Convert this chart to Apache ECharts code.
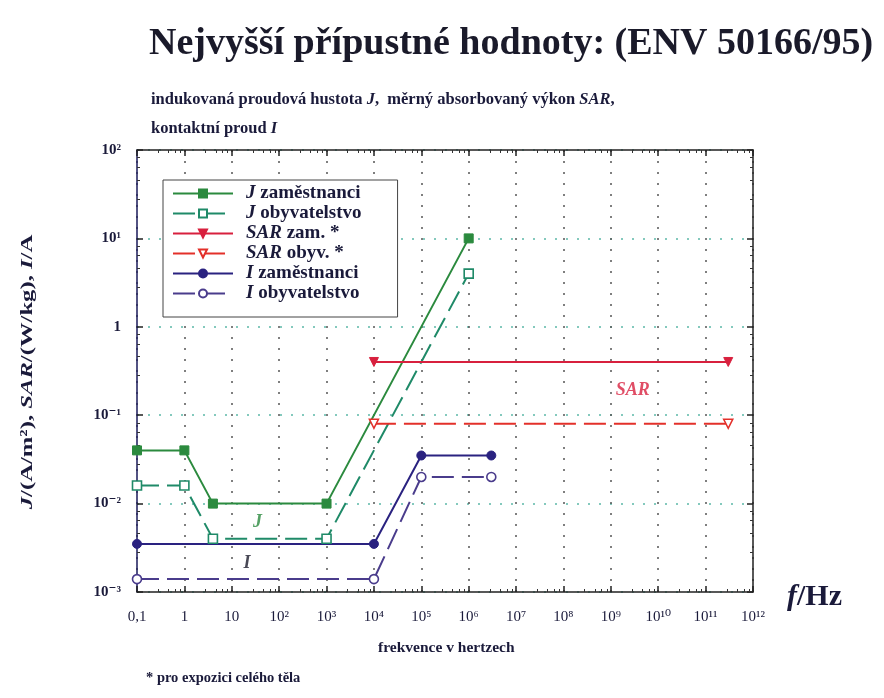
<!DOCTYPE html>
<html><head><meta charset="utf-8">
<script src="https://cdn.jsdelivr.net/npm/echarts@6/dist/echarts.min.js"></script>
<style>html,body{margin:0;padding:0;background:#fff}#c{width:884px;height:698px}</style>
</head><body><div id="c"></div>
<script>
// ---- data ----
const xTickLabels = ['0,1','1','10','10²','10³','10⁴','10⁵','10⁶','10⁷','10⁸','10⁹','10¹⁰','10¹¹','10¹²'];
const yTickLabels = ['10⁻³','10⁻²','10⁻¹','1','10¹','10²'];

const seriesNames = ['J zaměstnanci','J obyvatelstvo','SAR zam. *','SAR obyv. *','I zaměstnanci','I obyvatelstvo'];

const jZamF   = [0.1, 1, 4, 1000, 1e6];
const jZamV   = [0.04, 0.04, 0.01, 0.01, 10];
const jObyvF  = [0.1, 1, 4, 1000, 1e6];
const jObyvV  = [0.016, 0.016, 0.004, 0.004, 4];
const sarZamF = [1e4, 3e11];
const sarZamV = [0.4, 0.4];
const sarObyvF = [1e4, 3e11];
const sarObyvV = [0.08, 0.08];
const iZamF   = [0.1, 1e4, 1e5, 3e6];
const iZamV   = [0.0035, 0.0035, 0.035, 0.035];
const iObyvF  = [0.1, 1e4, 1e5, 3e6];
const iObyvV  = [0.0014, 0.0014, 0.02, 0.02];

// in-plot annotations (data coordinates)
const annoText = ['SAR', 'J', 'I'];
const annoF    = [2.9e9, 35, 21];
const annoV    = [0.19, 0.0062, 0.0021];

const SERIF = '"Liberation Serif","DejaVu Serif",serif';
const INK = '#1a1a3a';
const pairs = (xs, ys) => xs.map((x, i) => [x, ys[i]]);
const exp10 = v => Math.round(Math.log10(v));

const C = {
  jz: '#2b8a3e', jo: '#1f8a68', sz: '#d8203e', so: '#e3302a', iz: '#2a2280', io: '#4a3c8c'
};

function lineSeries(name, data, color, symbol, filled, dashed, rotate) {
  return {
    name, type: 'line', data,
    symbol, symbolSize: 9, symbolRotate: rotate || 0,
    showAllSymbol: true,
    lineStyle: { color, width: 2, type: dashed ? [22, 8] : 'solid' },
    itemStyle: filled ? { color, borderColor: color, borderWidth: 1 } : { color: '#fff', borderColor: color, borderWidth: 1.6 },
    emphasis: { disabled: true },
    z: 3
  };
}
const it = (size) => ({ fontFamily: SERIF, fontSize: size, fontWeight: 'bold', fontStyle: 'italic', color: INK });

const chart = echarts.init(document.getElementById('c'), null, { renderer: 'canvas' });

const option = {
  backgroundColor: '#fff',
  animation: false,
  title: [
    { text: 'Nejvyšší přípustné hodnoty: (ENV 50166/95)', left: 144, top: 20,
      textStyle: { fontFamily: SERIF, fontSize: 38, fontWeight: 'bold', color: '#1a1a2a' } },
    { text: 'indukovaná proudová hustota {i|J},  měrný absorbovaný výkon {i|SAR},', left: 146, top: 86,
      textStyle: { fontFamily: SERIF, fontSize: 16.5, fontWeight: 'bold', color: INK, rich: { i: it(16.5) } } },
    { text: 'kontaktní proud {i|I}', left: 146, top: 115,
      textStyle: { fontFamily: SERIF, fontSize: 16.5, fontWeight: 'bold', color: INK, rich: { i: it(16.5) } } },
    { text: 'frekvence v hertzech', left: 373, top: 635,
      textStyle: { fontFamily: SERIF, fontSize: 15.5, fontWeight: 'bold', color: INK } },
    { text: '* pro expozici celého těla', left: 141, top: 666,
      textStyle: { fontFamily: SERIF, fontSize: 14.5, fontWeight: 'bold', color: INK } },
    { text: '{i|f}/Hz', left: 782, top: 577,
      textStyle: { fontFamily: SERIF, fontSize: 30, fontWeight: 'bold', color: INK, rich: { i: it(30) } } }
  ],
  graphic: [
    { type: 'text', x: 28, y: 372, rotation: Math.PI / 2, scaleX: 1.45,
      style: { text: '{i|J}/(A/m²), {i|SAR}/(W/kg), {i|I}/A', fontFamily: SERIF, fontSize: 17, fontWeight: 'bold',
        fill: INK, align: 'center', verticalAlign: 'middle',
        rich: { i: { fontFamily: SERIF, fontSize: 17, fontWeight: 'bold', fontStyle: 'italic', fill: INK } } } }
  ],
  legend: {
    orient: 'vertical', left: 163, top: 180,
    data: seriesNames,
    itemWidth: 60, itemHeight: 10, itemGap: 1,
    padding: [4, 36, 14, 9],
    backgroundColor: '#fff', borderColor: '#444', borderWidth: 1,
    formatter: n => n.replace(/^(\S+)/, '{i|$1}'),
    textStyle: { fontFamily: SERIF, fontSize: 19, fontWeight: 'bold', color: INK, lineHeight: 16, padding: [0, 0, 0, 8],
      rich: { i: Object.assign(it(19), { lineHeight: 16 }) } },
    selectedMode: false,
    z: 10
  },
  grid: { left: 137, right: 131, top: 150, bottom: 106 },
  xAxis: [{
    type: 'log', logBase: 10, min: 0.1, max: 1e12, interval: 1,
    axisLine: { show: true, lineStyle: { color: '#222', width: 1.5 } },
    axisTick: { show: true, inside: true, length: 6, lineStyle: { color: '#222', width: 1.5 } },
    minorTick: { show: true, splitNumber: 5, length: 3, lineStyle: { color: '#333' } },
    axisLabel: { margin: 18, fontFamily: SERIF, fontSize: 15, color: INK,
      formatter: v => xTickLabels[exp10(v) + 1] },
    splitLine: { show: true, lineStyle: { color: '#555', width: 1.5, type: [2, 9] } }
  }, {
    type: 'log', logBase: 10, min: 0.1, max: 1e12, interval: 1, position: 'top',
    axisLine: { show: true, lineStyle: { color: '#222', width: 1.5 } },
    axisTick: { show: true, inside: true, length: 6, lineStyle: { color: '#222', width: 1.5 } },
    minorTick: { show: true, splitNumber: 5, length: 3, lineStyle: { color: '#333' } },
    axisLabel: { show: false }, splitLine: { show: false }
  }],
  yAxis: [{
    type: 'log', logBase: 10, min: 0.001, max: 100, interval: 1,
    axisLine: { show: true, lineStyle: { color: '#1a1a5a', width: 1.5 } },
    axisTick: { show: true, inside: true, length: 6, lineStyle: { color: '#222', width: 1.5 } },
    minorTick: { show: true, splitNumber: 5, length: 3, lineStyle: { color: '#333' } },
    axisLabel: { margin: 16, fontFamily: SERIF, fontSize: 15, fontWeight: 'bold', color: INK,
      formatter: v => yTickLabels[exp10(v) + 3] },
    splitLine: { show: true, lineStyle: { color: '#5cb8a8', width: 1.5, type: [2, 9] } }
  }, {
    type: 'log', logBase: 10, min: 0.001, max: 100, interval: 1, position: 'right',
    axisLine: { show: true, lineStyle: { color: '#222', width: 1.5 } },
    axisTick: { show: true, inside: true, length: 6, lineStyle: { color: '#222', width: 1.5 } },
    minorTick: { show: true, splitNumber: 5, length: 3, lineStyle: { color: '#333' } },
    axisLabel: { show: false }, splitLine: { show: false }
  }],
  series: [
    lineSeries(seriesNames[0], pairs(jZamF, jZamV), C.jz, 'rect', true, false),
    lineSeries(seriesNames[1], pairs(jObyvF, jObyvV), C.jo, 'rect', false, true),
    lineSeries(seriesNames[2], pairs(sarZamF, sarZamV), C.sz, 'triangle', true, false, 180),
    lineSeries(seriesNames[3], pairs(sarObyvF, sarObyvV), C.so, 'triangle', false, true, 180),
    lineSeries(seriesNames[4], pairs(iZamF, iZamV), C.iz, 'circle', true, false),
    lineSeries(seriesNames[5], pairs(iObyvF, iObyvV), C.io, 'circle', false, true),
    {
      name: 'annotations', type: 'scatter', symbolSize: 0, z: 4,
      data: annoF.map((f, i) => ({ value: [f, annoV[i]], name: annoText[i] })),
      label: {
        show: true, position: 'inside',
        formatter: p => p.name,
        fontFamily: SERIF, fontStyle: 'italic', fontWeight: 'bold', fontSize: 18,
        color: INK
      },
      labelLayout: { hideOverlap: false },
      emphasis: { disabled: true }, silent: true
    }
  ]
};
// colour of annotation labels per item
option.series[6].data[0].label = { color: C.sz, fontSize: 18 };
option.series[6].data[1].label = { color: C.jz, fontSize: 18 };
option.series[6].data[2].label = { color: '#1a1a2a', fontSize: 18 };

chart.setOption(option);
</script>
</body></html>
